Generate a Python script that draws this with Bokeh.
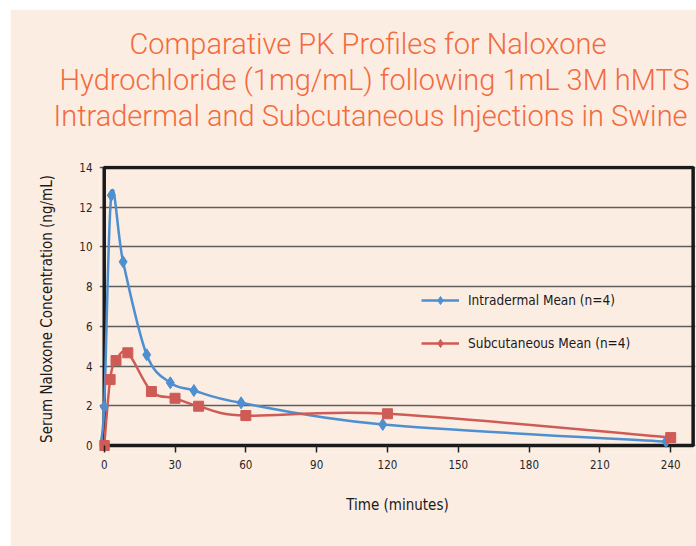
from bokeh.plotting import figure
from bokeh.models import Range1d, FixedTicker, Title, Legend, LegendItem
from bokeh.embed import file_html
from bokeh.resources import INLINE

# ---- data ----
id_time = [-2, 0, 3, 8, 18, 28, 38, 58, 118, 238]
id_conc = [0.0, 1.95, 12.6, 9.25, 4.57, 3.16, 2.77, 2.15, 1.06, 0.2]
sc_time = [0, 2.5, 5, 10, 20, 30, 40, 60, 120, 240]
sc_conc = [0.0, 3.32, 4.28, 4.67, 2.72, 2.38, 1.98, 1.51, 1.6, 0.4]
x_ticks = [0, 30, 60, 90, 120, 150, 180, 210, 240]
y_ticks = [0, 2, 4, 6, 8, 10, 12, 14]
title_lines = ["Comparative PK Profiles for Naloxone",
               "Hydrochloride (1mg/mL) following 1mL 3M hMTS",
               "Intradermal and Subcutaneous Injections in Swine"]
labels = ["Intradermal Mean (n=4)", "Subcutaneous Mean (n=4)"]

BG = "#FCEDE3"
BLUE = "#4D8FD0"
RED = "#CF5B56"
ORANGE = "#F26B3D"
NARROW = "'Liberation Sans Narrow', 'DejaVu Sans Condensed', 'Roboto', sans-serif"
LIGHT = "'Roboto Light', 'Roboto', sans-serif"
NAN = float("nan")


def smooth(xs, ys):
    """Bezier control points of a Catmull-Rom style smoothed line."""
    n = len(xs)
    out = {k: [] for k in ("x0", "y0", "x1", "y1", "cx0", "cy0", "cx1", "cy1")}
    for i in range(n - 1):
        a = i - 1 if i > 0 else i
        d = i + 2 if i + 2 < n else i + 1
        out["x0"].append(xs[i]); out["y0"].append(ys[i])
        out["x1"].append(xs[i + 1]); out["y1"].append(ys[i + 1])
        out["cx0"].append(xs[i] + (xs[i + 1] - xs[a]) / 6.0)
        out["cy0"].append(ys[i] + (ys[i + 1] - ys[a]) / 6.0)
        out["cx1"].append(xs[i + 1] - (xs[d] - xs[i]) / 6.0)
        out["cy1"].append(ys[i + 1] - (ys[d] - ys[i]) / 6.0)
    return out


p = figure(width=686, height=537, output_backend="svg", toolbar_location=None,
           x_range=Range1d(-2, 250.5), y_range=Range1d(-0.35, 14.1),
           min_border_left=89, min_border_right=1, min_border_top=156, min_border_bottom=94)
p.margin = (9, 0, 0, 10)
p.background_fill_color = BG
p.border_fill_color = BG
p.outline_line_color = None

# empty spacer between the title block and the plot frame
p.add_layout(Title(text=" ", text_font_size="28px", standoff=0, text_line_height=1.0), "above")
# title lines, bottom line first; offsets place each line's left edge
title_offsets = [30, -40, -46]
for i in (2, 1, 0):
    p.add_layout(Title(text=title_lines[i], align="left", text_font=LIGHT,
                       text_font_size="29px", text_color=ORANGE, text_font_style="normal",
                       offset=title_offsets[i], standoff=0, text_line_height=1.0), "above")

# grid
p.xgrid.grid_line_color = None
p.ygrid.ticker = FixedTicker(ticks=y_ticks)
p.ygrid.grid_line_color = "#5e5e5e"
p.ygrid.grid_line_width = 1.3

# axes
p.xaxis.ticker = FixedTicker(ticks=x_ticks)
p.yaxis.ticker = FixedTicker(ticks=y_ticks)
for ax in (p.xaxis[0], p.yaxis[0]):
    ax.axis_line_color = None
    ax.major_label_text_font = NARROW
    ax.major_label_text_font_size = "11.5px"
    ax.major_label_text_color = "#262626"
    ax.minor_tick_line_color = None
    ax.axis_label_text_font = NARROW
    ax.axis_label_text_font_size = "15px"
    ax.axis_label_text_font_style = "normal"
    ax.axis_label_text_color = "#1a1a1a"
p.xaxis.major_tick_in = 7
p.xaxis.major_tick_out = 0
p.xaxis.major_tick_line_color = "#222222"
p.xaxis.major_tick_line_width = 1.5
p.xaxis.major_label_standoff = 7
p.xaxis.axis_label = "Time (minutes)"
p.xaxis.axis_label_standoff = 24
p.yaxis.major_tick_in = 0
p.yaxis.major_tick_out = 0
p.yaxis.major_tick_line_color = None
p.yaxis.major_label_standoff = 7
p.yaxis.axis_label = "Serum Naloxone Concentration (ng/mL)"
p.yaxis.axis_label_standoff = 20

# plot box
p.quad(left=[x_ticks[0]], right=[249.5], bottom=[y_ticks[0]], top=[y_ticks[-1]],
       fill_color=None, line_color="#1a1a1a", line_width=3.5)

# smoothed lines
b1 = smooth(id_time, id_conc)
p.bezier(x0=b1["x0"], y0=b1["y0"], x1=b1["x1"], y1=b1["y1"], cx0=b1["cx0"], cy0=b1["cy0"],
         cx1=b1["cx1"], cy1=b1["cy1"], line_color=BLUE, line_width=2.5)
b2 = smooth(sc_time, sc_conc)
p.bezier(x0=b2["x0"], y0=b2["y0"], x1=b2["x1"], y1=b2["y1"], cx0=b2["cx0"], cy0=b2["cy0"],
         cx1=b2["cx1"], cy1=b2["cy1"], line_color=RED, line_width=2.5)

# markers
p.scatter(id_time[1:], id_conc[1:], marker="diamond", size=12, color=BLUE)
p.scatter(sc_time, sc_conc, marker="square", size=10, color=RED)

# legend proxies (not visible in the plot area)
l1 = p.line([NAN, NAN], [NAN, NAN], line_color=BLUE, line_width=2.5)
m1 = p.scatter([NAN], [NAN], marker="diamond", size=13, color=BLUE)
l2 = p.line([NAN, NAN], [NAN, NAN], line_color=RED, line_width=2.5)
m2 = p.scatter([NAN], [NAN], marker="diamond", size=13, color=RED)
legend = Legend(items=[LegendItem(label=labels[0], renderers=[l1, m1]),
                       LegendItem(label=labels[1], renderers=[l2, m2])],
                location=(322, 99), orientation="vertical",
                glyph_width=38, glyph_height=20, spacing=23, padding=0, margin=0,
                label_standoff=9, label_text_font=NARROW, label_text_font_size="13.5px",
                label_text_color="#1a1a1a", background_fill_alpha=0, border_line_color=None)
p.add_layout(legend, "center")

open("out.html", "w").write(file_html(p, INLINE))
